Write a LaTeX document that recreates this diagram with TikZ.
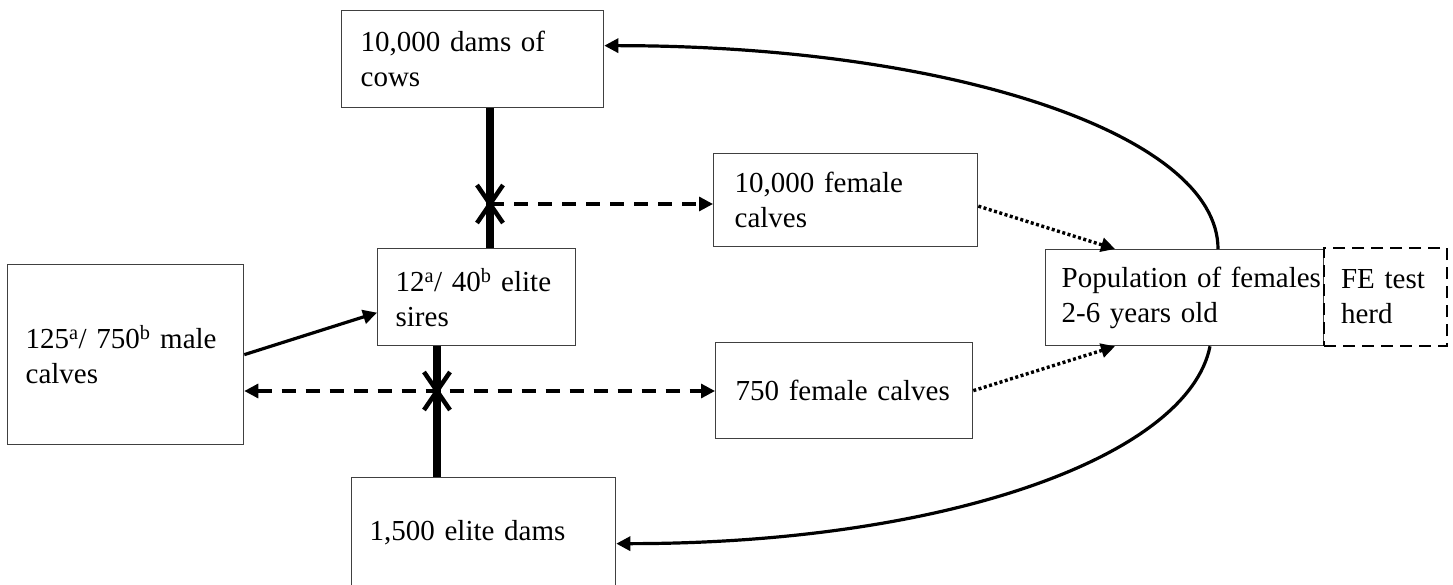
\documentclass[tikz,border=0pt]{standalone}
\usepackage{fontspec}
\setmainfont{Liberation Serif}
\usetikzlibrary{arrows.meta,calc}
\begin{document}
\begin{tikzpicture}[x=1pt,y=-1pt,
  font=\fontsize{29}{35}\selectfont,
  box/.style={draw=black!75, line width=1.3pt, align=left, inner ysep=0pt, anchor=north west},
  febox/.style={box, draw=black, line width=2.2pt, dash pattern=on 12pt off 7pt},
  thickline/.style={line width=8.5pt},
  xmark/.style={line width=4.5pt},
  tip/.style={-{Triangle[length=14pt,width=14pt]}},
  dasharrow/.style={line width=3.2pt, dash pattern=on 14pt off 10pt},
  dotarrow/.style={line width=3.4pt, dash pattern=on 3pt off 2.5pt, tip},
  solidarrow/.style={line width=3.2pt, tip},
  curvearrow/.style={line width=3.2pt, tip}
]
\useasboundingbox (0,0) rectangle (1453,585);

% boxes
\node[box, minimum width=262, minimum height=97, text width=224, inner xsep=19] (cows) at (341,10) {10,000 dams of\\cows};
\node[box, minimum width=264, minimum height=93, text width=222, inner xsep=21] (fcal) at (713,153) {10,000 female\\calves};
\node[box, minimum width=198, minimum height=97, text width=162, inner xsep=18] (sires) at (377,248) {12\textsuperscript{a}/ 40\textsuperscript{b} elite\\sires};
\node[box, minimum width=236, minimum height=180, text width=200, inner xsep=18] (male) at (7,264) {125\textsuperscript{a}/ 750\textsuperscript{b} male\\calves};
\node[box, minimum width=257, minimum height=96, text width=217, inner xsep=20] (f750) at (715,342) {\mbox{750 female calves}};
\node[box, minimum width=264, minimum height=110, text width=228, inner xsep=18] (edams) at (351,477) {1,500 elite dams};
\node[box, minimum width=278, minimum height=96, text width=246, inner xsep=16] (pop) at (1045,249) {\mbox{Population of females}\\2-6 years old};
\node[febox, minimum width=123, minimum height=98, text width=89, inner xsep=17] (fe) at (1323,247) {FE test\\herd};

% crossing points
\coordinate (x1) at (490,204);
\coordinate (x2) at (437,391);

% thick mating lines
\draw[thickline] (x1 |- cows.south) -- (x1 |- sires.north);
\draw[thickline] (x2 |- sires.south) -- (x2 |- edams.north);

% X marks
\draw[xmark] ([shift={(-13,-19)}]x1) -- ([shift={(13,19)}]x1);
\draw[xmark] ([shift={(-13,19)}]x1) -- ([shift={(13,-19)}]x1);
\draw[xmark] ([shift={(-13,-19)}]x2) -- ([shift={(13,19)}]x2);
\draw[xmark] ([shift={(-13,19)}]x2) -- ([shift={(13,-19)}]x2);

% dashed arrows
\draw[dasharrow, -{Triangle[length=14pt,width=14pt]}] (x1) -- (x1 -| fcal.west);
\draw[dasharrow, {Triangle[length=14pt,width=14pt]}-{Triangle[length=14pt,width=14pt]}] (x2 -| male.east) -- (x2 -| f750.west);

% solid arrow
\draw[solidarrow] (male.east) -- ([yshift=-15.5pt]sires.west);

% dotted arrows
\draw[dotarrow] ([yshift=-6pt]fcal.east) -- ([xshift=70pt]pop.north west);
\draw[dotarrow] (f750.east) -- ([xshift=70pt]pop.south west);

% curves
\draw[curvearrow] ([xshift=173pt]pop.north west) .. controls +(0,-115) and +(345,0) .. ([yshift=13.5pt]cows.east);
\draw[curvearrow] ([xshift=165pt]pop.south west) .. controls +(-22,110) and +(330,0) .. ([yshift=-11pt]edams.east);
\end{tikzpicture}
\end{document}
